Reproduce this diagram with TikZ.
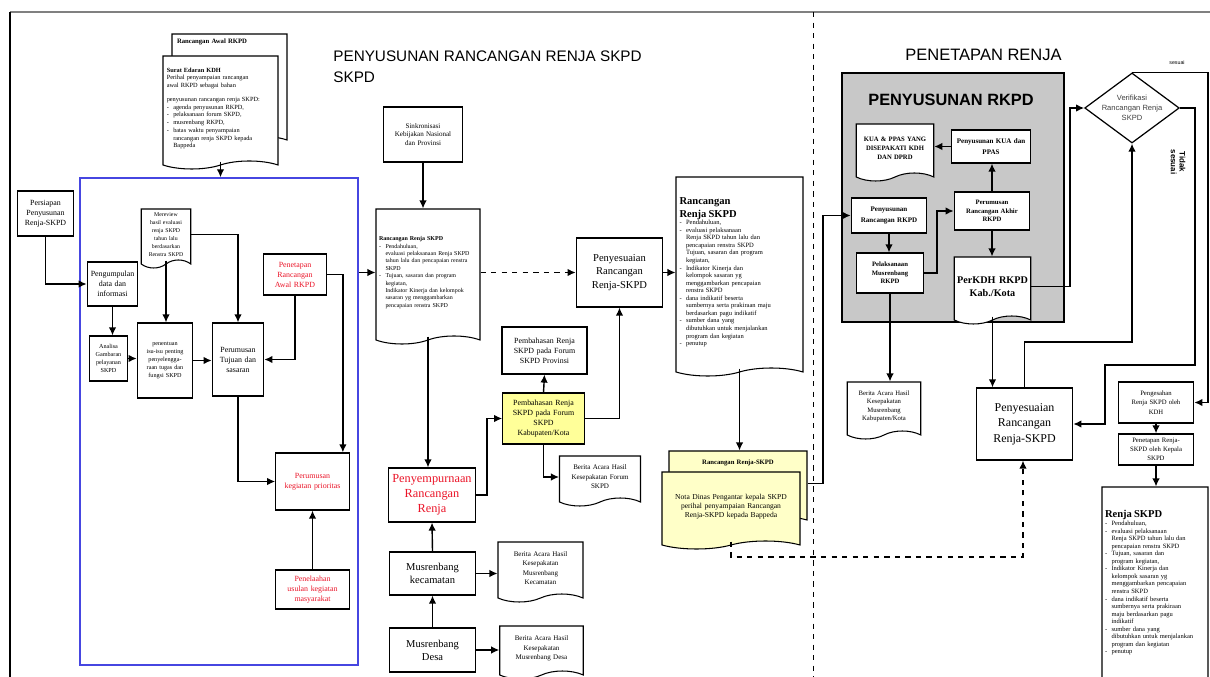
\documentclass[tikz,border=0pt]{standalone}
\usepackage{fontspec}
\setmainfont{Liberation Serif}
\setsansfont{Liberation Sans}
\usepackage{tikz}
\usetikzlibrary{arrows.meta, positioning, shapes.symbols, shapes.geometric}

\definecolor{biru}{RGB}{70,70,225}
\definecolor{kuning}{RGB}{255,255,153}
\definecolor{krem}{RGB}{255,255,200}
\definecolor{abu}{RGB}{200,200,200}
\definecolor{merah}{RGB}{235,20,40}

\newcommand{\butir}{\makebox[1.3mm][l]{-}}
\newcommand{\sisip}{\hspace*{1.3mm}}
\hyphenpenalty=10000

\tikzset{
  kotak/.style={draw, rectangle, line width=0.7pt, fill=white, align=center, inner sep=1pt, font=\fontsize{4.5}{5.7}\selectfont},
  dok/.style={draw, tape, tape bend top=none, tape bend bottom=in and out, tape bend height=1.6mm, line width=0.6pt, fill=white, align=left, inner sep=1pt, font=\fontsize{3.6}{4.4}\selectfont},
  berita/.style={dok, align=center, font=\fontsize{4}{5.4}\selectfont},
  tebal/.style={kotak, font=\bfseries\fontsize{4}{6}\selectfont},
  panah/.style={line width=0.8pt, -{Latex[length=1.6mm, width=1.5mm]}},
  judul/.style={font=\sffamily\fontsize{8.7}{12}\selectfont, align=left, inner sep=0pt},
}

\begin{document}
\begin{tikzpicture}[x=0.2mm, y=-0.2mm]
\useasboundingbox[fill=white] (0,0) rectangle (1210,677);

\draw[gray, line width=0.6pt] (10,12) -- (1210,12);
\draw[line width=0.8pt] (10,12) -- (10,677);
\draw[dashed, line width=0.5pt] (813,12) -- (813,677);

\node[judul, anchor=north west] (judul1) at (333,50) {PENYUSUNAN RANCANGAN RENJA SKPD\\SKPD};
\node[judul, anchor=north west, font=\sffamily\fontsize{9.4}{12}\selectfont] (judul2) at (905,49) {PENETAPAN RENJA};

\node[draw=biru, line width=0.8pt, minimum width=55.6mm, minimum height=97.4mm] (tahap) at (219,421.5) {};

\node[dok, minimum width=23mm, minimum height=22mm, text width=21mm, text height=1.5mm, text depth=18mm, font=\bfseries\fontsize{3.8}{4.4}\selectfont] (awal) at (229.5,85) {Rancangan Awal RKPD};
\node[dok, minimum width=23mm, minimum height=22.6mm, text width=21.5mm] (surat) at (220.5,108.5) {\textbf{Surat Edaran KDH}\\Perihal penyampaian rancangan\\awal RKPD sebagai bahan\\[1.2mm]penyusunan rancangan renja SKPD:\\\butir agenda penyusunan RKPD,\\\butir pelaksanaan forum SKPD,\\\butir musrenbang RKPD,\\\butir batas waktu penyampaian\\\sisip rancangan renja SKPD kepada\\\sisip Bappeda};

\node[kotak, minimum width=11mm, minimum height=9mm, text width=10.5mm] (persiapan) at (45.5,213.5) {Persiapan\\Penyusunan\\Renja-SKPD};
\node[kotak, minimum width=9.8mm, minimum height=8.8mm, text width=9.4mm] (kumpul) at (112.5,284) {Pengumpulan\\data dan\\informasi};
\node[dok, minimum width=9.6mm, minimum height=11.8mm, text width=9.2mm, align=center, font=\fontsize{3.3}{4.6}\selectfont] (review) at (166,234.5) {Mereview\\hasil evaluasi\\renja SKPD\\tahun lalu\\berdasarkan\\Renstra SKPD};
\node[kotak, minimum width=7.4mm, minimum height=9mm, text width=7mm, font=\fontsize{3.5}{4.6}\selectfont] (analisa) at (108.5,358.5) {Analisa\\Gambaran\\pelayanan\\SKPD};
\node[kotak, minimum width=10.8mm, minimum height=15mm, text width=10.4mm, font=\fontsize{3.5}{4.6}\selectfont] (isu) at (165,360.5) {penentuan\\isu-isu penting\\penyelengga-\\raan tugas dan\\fungsi SKPD};
\node[kotak, minimum width=10mm, minimum height=14.6mm, text width=9.6mm] (tujuan) at (238,359.5) {Perumusan\\Tujuan dan\\sasaran};
\node[kotak, minimum width=12.4mm, minimum height=8.2mm, text width=12mm, text=merah] (awalrkpd) at (295,274.5) {Penetapan\\Rancangan\\Awal RKPD};
\node[kotak, minimum width=14.6mm, minimum height=11.4mm, text width=14mm, text=merah] (prioritas) at (312.5,481.5) {Perumusan\\kegiatan prioritas};
\node[kotak, minimum width=14.6mm, minimum height=7.8mm, text width=14mm, text=merah] (usulan) at (312.5,589.5) {Penelaahan\\usulan kegiatan\\masyarakat};

\node[kotak, minimum width=15.6mm, minimum height=11mm, text width=15mm, font=\fontsize{4}{5}\selectfont] (sinkron) at (423,134.5) {Sinkronisasi\\Kebijakan Nasional\\dan Provinsi};
\node[dok, minimum width=20.8mm, minimum height=27mm, text width=19.6mm, font=\fontsize{3.4}{4.2}\selectfont] (rr) at (428,272.5) {\textbf{Rancangan Renja SKPD}\\\butir Pendahuluan,\\\sisip evaluasi pelaksanaan Renja SKPD\\\sisip tahun lalu dan pencapaian renstra\\\sisip SKPD\\\butir Tujuan, sasaran dan program\\\sisip kegiatan,\\\sisip Indikator Kinerja dan kelompok\\\sisip sasaran yg menggambarkan\\\sisip pencapaian renstra SKPD};
\node[kotak, minimum width=17mm, minimum height=13.8mm, text width=16.6mm, font=\fontsize{6}{7.8}\selectfont] (sesuai1) at (619.5,272.5) {Penyesuaian\\Rancangan\\Renja-SKPD};
\node[dok, minimum width=25.4mm, minimum height=39.8mm, text width=24mm, font=\fontsize{3.7}{4.3}\selectfont] (rr2) at (739.5,272.5) {{\bfseries\fontsize{6}{7}\selectfont Rancangan\\Renja SKPD\par}\noindent\butir Pendahuluan,\\\butir evaluasi pelaksanaan\\\sisip Renja SKPD tahun lalu dan\\\sisip pencapaian renstra SKPD\\\sisip Tujuan, sasaran dan program\\\sisip kegiatan,\\\butir Indikator Kinerja dan\\\sisip kelompok sasaran yg\\\sisip menggambarkan pencapaian\\\sisip renstra SKPD\\\butir dana indikatif beserta\\\sisip sumbernya serta prakiraan maju\\\sisip berdasarkan pagu indikatif\\\butir sumber dana yang\\\sisip dibutuhkan untuk menjalankan\\\sisip program dan kegiatan\\\butir penutup};
\node[dok, fill=krem, minimum width=27.6mm, minimum height=14.6mm, text width=26mm, align=center, text height=1.5mm, text depth=9mm, font=\bfseries\fontsize{3.8}{4.4}\selectfont] (ry) at (738,483.5) {Rancangan Renja-SKPD};
\node[dok, fill=krem, minimum width=27.6mm, minimum height=15.4mm, text width=26.6mm, align=center, font=\fontsize{4.3}{5.2}\selectfont] (nota) at (731,506.5) {Nota Dinas Pengantar kepala SKPD\\perihal penyampaian Rancangan\\Renja-SKPD kepada Bappeda};

\node[kotak, minimum width=17mm, minimum height=9.4mm, text width=16mm] (provinsi) at (544.5,350.5) {Pembahasan Renja\\SKPD pada Forum\\SKPD Provinsi};
\node[kotak, fill=kuning, minimum width=16.2mm, minimum height=10.2mm, text width=15.6mm] (kabkota) at (543.5,418.5) {Pembahasan Renja\\SKPD pada Forum\\SKPD\\Kabupaten/Kota};
\node[berita, minimum width=16mm, minimum height=10mm, text width=15.5mm] (bforum) at (600,477) {Berita Acara Hasil\\Kesepakatan Forum\\SKPD};
\node[kotak, minimum width=17.2mm, minimum height=10.8mm, text width=16.8mm, text=merah, font=\fontsize{7}{8.6}\selectfont] (sempurna) at (432,495) {Penyempurnaan\\Rancangan\\Renja};
\node[kotak, minimum width=17mm, minimum height=8.6mm, text width=16.6mm, font=\fontsize{6}{7.5}\selectfont] (kec) at (432.5,573.5) {Musrenbang\\kecamatan};
\node[berita, minimum width=17mm, minimum height=12mm, text width=16mm] (bkec) at (540.5,568) {Berita Acara Hasil\\Kesepakatan\\Musrenbang\\Kecamatan};
\node[kotak, minimum width=17mm, minimum height=8.8mm, text width=16.6mm, font=\fontsize{6}{7.5}\selectfont] (desa) at (432.5,650) {Musrenbang\\Desa};
\node[berita, minimum width=16.6mm, minimum height=10.6mm, text width=16mm] (bdesa) at (541.5,648.5) {Berita Acara Hasil\\Kesepakatan\\Musrenbang Desa};

\node[draw, line width=0.7pt, fill=abu, minimum width=44.4mm, minimum height=49.8mm] (rkpd) at (953,197.5) {};
\node[font=\sffamily\bfseries\fontsize{9.3}{11}\selectfont] (judulrkpd) at (951,100) {PENYUSUNAN RKPD};
\node[dok, minimum width=15.2mm, minimum height=11.4mm, text width=14.8mm, align=center, font=\bfseries\fontsize{3.8}{5.2}\selectfont] (kua) at (895,148.5) {KUA \& PPAS YANG\\DISEPAKATI KDH\\DAN DPRD};
\node[tebal, minimum width=15.6mm, minimum height=6.6mm, text width=15.2mm] (pkua) at (991,146.5) {Penyusunan KUA dan\\PPAS};
\node[tebal, minimum width=14.8mm, minimum height=7.6mm, text width=14.4mm, font=\bfseries\fontsize{3.8}{4.8}\selectfont] (akhir) at (992,211) {Perumusan\\Rancangan Akhir\\RKPD};
\node[tebal, minimum width=14.8mm, minimum height=7mm, text width=14.4mm] (prkpd) at (889,215.5) {Penyusunan\\Rancangan RKPD};
\node[tebal, minimum width=13.2mm, minimum height=8mm, text width=12.8mm, font=\bfseries\fontsize{3.8}{4.8}\selectfont] (musrkpd) at (890,273) {Pelaksanaan\\Musrenbang\\RKPD};
\node[dok, minimum width=15mm, minimum height=13.4mm, text width=14.6mm, align=center, font=\bfseries\fontsize{5.8}{7.5}\selectfont] (perkdh) at (992.5,286.5) {PerKDH RKPD\\Kab./Kota};
\node[berita, minimum width=14.4mm, minimum height=11.4mm, text width=14mm, font=\fontsize{3.8}{4.8}\selectfont] (bkab) at (884,406.5) {Berita Acara Hasil\\Kesepakatan\\Musrenbang\\Kabupaten/Kota};

\node[diamond, aspect=1.35, draw, line width=0.7pt, fill=white, inner sep=0pt, align=center, text=darkgray, font=\sffamily\fontsize{4.3}{5.6}\selectfont] (verif) at (1132,108) {Verifikasi\\Rancangan Renja\\SKPD};
\node[kotak, minimum width=19mm, minimum height=14.4mm, text width=18.6mm, font=\fontsize{6.8}{8.8}\selectfont] (sesuai2) at (1024.5,424) {Penyesuaian\\Rancangan\\Renja-SKPD};
\node[kotak, minimum width=14.8mm, minimum height=8.2mm, text width=14.4mm, font=\fontsize{3.8}{5.4}\selectfont] (sahkan) at (1156,402.5) {Pengesahan\\Renja SKPD oleh\\KDH};
\node[kotak, minimum width=14.8mm, minimum height=6.2mm, text width=14.4mm, font=\fontsize{3.8}{5}\selectfont] (tetapkan) at (1156,449.5) {Penetapan Renja-\\SKPD oleh Kepala\\SKPD};
\node[dok, minimum width=21.2mm, minimum height=40mm, text width=20mm, font=\fontsize{3.7}{4.3}\selectfont] (renja) at (1155,583) {{\bfseries\fontsize{6}{7}\selectfont Renja SKPD\par}\noindent\butir Pendahuluan,\\\butir evaluasi pelaksanaan\\\sisip Renja SKPD tahun lalu dan\\\sisip pencapaian renstra SKPD\\\butir Tujuan, sasaran dan\\\sisip program kegiatan,\\\butir Indikator Kinerja dan\\\sisip kelompok sasaran yg\\\sisip menggambarkan pencapaian\\\sisip renstra SKPD\\\butir dana indikatif beserta\\\sisip sumbernya serta prakiraan\\\sisip maju berdasarkan pagu\\\sisip indikatif\\\butir sumber dana yang\\\sisip dibutuhkan untuk menjalankan\\\sisip program dan kegiatan\\\butir penutup};

\node[font=\sffamily\fontsize{3}{3}\selectfont] (lsesuai) at (1177,63) {sesuai};
\node[rotate=-90, align=center, font=\sffamily\bfseries\fontsize{4.5}{5}\selectfont] (ltidak) at (1178,162) {Tidak\\sesuai};

\coordinate (sela) at (487,0);
\coordinate (belok) at (823,0);
\coordinate (bawah) at (1023,557);
\coordinate (sela2) at (937,0);
\coordinate (kanan1) at (1070,0);
\coordinate (naik) at (1132,342);
\coordinate (tk1) at (1195,365);
\coordinate (tk2) at (1105,365);
\coordinate (ujung) at (1208,0);

\draw[panah] (surat.south) -- (surat.south |- tahap.north);
\draw[panah] (persiapan.south) |- (kumpul.west);
\draw[panah] (kumpul.south) -- (kumpul.south |- analisa.north);
\draw[panah] (review.south) -- (review.south |- isu.north);
\draw[panah] (analisa.east) -- (analisa.east -| isu.west);
\draw[panah] (isu.east) -- (isu.east -| tujuan.west);
\draw[panah] (review.east) -| (tujuan.north);
\draw[panah] (awalrkpd.south) |- (tujuan.east);
\draw[panah] (awalrkpd.east) -| ([xshift=-1.4mm]prioritas.north east);
\draw[panah] (tujuan.south) |- (prioritas.west);
\draw[panah] (usulan.north) -- (prioritas.south);
\draw[panah] (tahap.east |- rr.west) -- (rr.west);
\draw[panah] (sinkron.south) -- (sinkron.south |- rr.north);
\draw[panah, dashed] (rr.east) -- (sesuai1.west);
\draw[panah] (sesuai1.east) -- (rr2.west);
\draw[panah] (rr.south) -- (rr.south |- sempurna.north);
\draw[panah] (sempurna.east) -| (sela |- kabkota.west) -- (kabkota.west);
\draw[panah] (kabkota.north) -- (provinsi.south);
\draw[panah] (kabkota.east) -| (sesuai1.south);
\draw[panah] (kabkota.south) |- (bforum.west);
\draw[panah] (kec.north) -- (sempurna.south);
\draw[panah] (desa.north) -- (kec.south);
\draw[panah] (kec.east) -- (kec.east -| bkec.west);
\draw[panah] (desa.east) -- (desa.east -| bdesa.west);
\draw[panah] (rr2.south) -- (rr2.south |- ry.north);
\draw[panah] (ry.east) -| (belok |- prkpd.west) -- (prkpd.west);
\draw[panah, dashed] (nota.south) |- (bawah) -- (bawah |- sesuai2.south);
\draw[panah] (pkua.west) -- (pkua.west -| kua.east);
\draw[panah] (akhir.north) -- (akhir.north |- pkua.south);
\draw[panah] (prkpd.south) -- (prkpd.south |- musrkpd.north);
\draw[panah] (musrkpd.east) -| (sela2 |- akhir.west) -- (akhir.west);
\draw[panah] (akhir.south) -- (akhir.south |- perkdh.north);
\draw[panah] (musrkpd.south) -- (musrkpd.south |- bkab.north);
\draw[panah] (perkdh.south) -- (perkdh.south |- sesuai2.north);
\draw[panah] (perkdh.east) -| (kanan1 |- verif.west) -- (verif.west);
\draw[panah] (sesuai2.north) |- (naik) -- (verif.south);
\draw[panah] (verif.east) -| (tk1) -- (tk2) |- (sesuai2.east);
\draw[panah] (verif.north) -| (ujung |- sahkan.east) -- (sahkan.east);
\draw[panah] (sahkan.south) -- (tetapkan.north);
\draw[panah] (tetapkan.south) -- (tetapkan.south |- renja.north);
\end{tikzpicture}
\end{document}
